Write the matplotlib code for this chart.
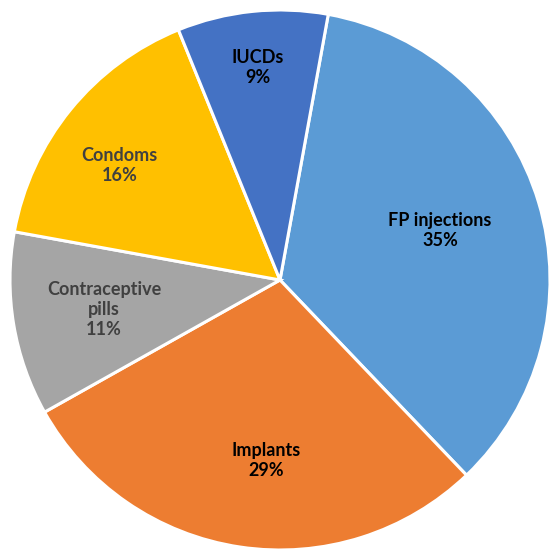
import matplotlib.pyplot as plt
import numpy as np

labels = ["FP injections", "Implants", "Contraceptive\npills", "Condoms", "IUCDs"]
shares = [35, 29, 11, 16, 9]
colors = ["#5B9BD5", "#ED7D31", "#A5A5A5", "#FFC000", "#4472C4"]
text_colors = ["#000000", "#000000", "#404040", "#404040", "#000000"]
# radial distance and small angle nudge for each label
label_dist = [0.62, 0.67, 0.66, 0.73, 0.79]
label_turn = [0.5, 4.0, 0.0, 3.5, 0.0]

plt.rcParams['font.family'] = ['Lato', 'DejaVu Sans']

fig = plt.figure(figsize=(5.5, 5.5), dpi=100)
ax = fig.add_axes([0, 0, 1, 1])

wedges, _ = ax.pie(shares, colors=colors, startangle=79.7, counterclock=False,
                   radius=1.0, wedgeprops=dict(edgecolor="white", linewidth=2.2))

for w, lab, val, tc, d, t in zip(wedges, labels, shares, text_colors, label_dist, label_turn):
    mid = np.deg2rad((w.theta1 + w.theta2) / 2 + t)
    ax.text(d * np.cos(mid), d * np.sin(mid), f"{lab}\n{val}%", ha="center", va="center",
            fontsize=13, fontweight="bold", color=tc, linespacing=1.2)

ax.set_xlim(-280 / 270, 1.0)
ax.set_ylim(-1.0, 280 / 270)
ax.set_aspect("equal")
ax.axis("off")

fig.savefig("out.png", dpi=100)
